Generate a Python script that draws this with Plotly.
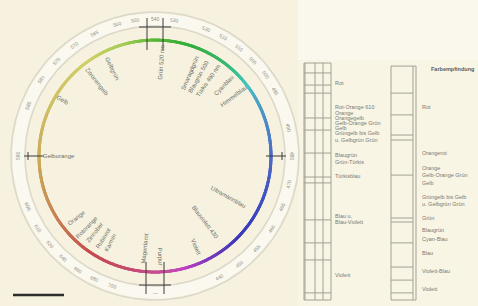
import colorsys
import numpy as np
import plotly.graph_objects as go

# ---------------- data ----------------
# colour wheel: clockwise angle from top (deg) -> hue (deg) and lightness
wheel_angles = [0, 20, 40, 60, 90, 135, 155, 175, 195, 215, 235, 260, 290, 325, 345, 360]
wheel_hues = [105, 125, 150, 195, 225, 240, 275, 320, 345, 360, 380, 400, 410, 420, 440, 465]
wheel_light = [0.47, 0.45, 0.48, 0.54, 0.54, 0.48, 0.48, 0.54, 0.54, 0.54, 0.56, 0.56, 0.6, 0.62, 0.57, 0.47]
wheel_radius = 116
ring_radii = [130, 144]

# radial labels inside the wheel
inner_label_angles = [4, 23, 29, 35, 44, 53, 119, 143, 156, 177, 186, 207, 212, 218, 224, 232, 270, 301, 322, 334]
inner_label_radii = [94, 90, 90, 92, 98, 99, 84, 83, 100, 101, 93, 97, 97, 97, 98, 100, 96, 108, 94, 97]
inner_label_texts = ["Grün 520 nm", "Smaragdgrün", "Blaugrün 500", "Türkis 490 nm", "Cyanblau",
                     "Himmelblau", "Ultramarinblau", "Blauviolett 430", "Violett", "Purpur",
                     "Magentarot", "Karmin", "Rubinrot", "Zinnober", "Rotorange", "Orange",
                     "Gelborange", "Gelb", "Zitronengelb", "Gelbgrün"]

# tangential labels on the outer rings
outer_label_angles = [0, 352, 8, 22, 30, 38, 46, 54, 62, 78, 90, 102, 112, 122, 132, 142, 152, 180,
                      198, 206, 214, 222, 230, 238, 248, 270, 292, 304, 314, 324, 334, 344]
outer_label_texts = ["540", "550", "530", "520", "515", "510", "505", "500", "495", "490", "480",
                     "470", "465", "460", "455", "450", "440", "—", "700", "680", "660", "640",
                     "620", "610", "600", "590", "585", "580", "575", "570", "565", "560"]

# cross marks at the four main directions (tangential offsets of radial strokes)
mark_angles = [0, 90, 180, 270]
mark_offsets = [[-8, 8], [0], [-9, 9], [0]]

# right panel: scale positions 0 (top) .. 100 (bottom)
scale1_ticks = [4.2, 9.3, 12.7, 23.2, 28.3, 38.0, 48.1, 50.6, 66.2, 75.9, 83.1, 97.0]
scale1_label_pos = [8.4, 18.6, 21.1, 23.2, 25.3, 27.4, 29.5, 32.5, 38.8, 41.8, 47.7, 64.6, 67.1, 89.5]
scale1_label_txt = ["Rot", "Rot-Orange 610", "Orange", "Orangegelb", "Gelb-Orange Grün", "Gelb",
                    "Grüngelb bis Gelb", "u. Gelbgrün Grün", "Blaugrün", "Grün-Türkis",
                    "Türkisblau", "Blau u.", "Blau-Violett", "Violett"]
scale2_ticks = [12.7, 21.9, 30.4, 32.5, 47.3, 65.4, 67.1, 75.9, 86.1, 91.6, 97.0]
scale2_label_pos = [18.6, 38.0, 44.3, 47.3, 50.6, 56.5, 59.5, 65.4, 70.5, 74.3, 80.2, 87.8, 95.4]
scale2_label_txt = ["Rot", "Orangerot", "Orange", "Gelb-Orange Grün", "Gelb", "Grüngelb bis Gelb",
                    "u. Gelbgrün Grün", "Grün", "Blaugrün", "Cyan-Blau", "Blau", "Violett-Blau",
                    "Violett"]
scale2_title = "Farbempfindung"

# ---------------- figure ----------------
BG = "#f6f2df"
TXT = "#7a7a72"
FONT = "Liberation Sans"

fig = go.Figure()


def polar_xy(theta_deg, r):
    t = np.radians(theta_deg)
    return r * np.sin(t), r * np.cos(t)


# rings (light band with grey edges)
ring_t = np.linspace(0, 360, 721)
rx, ry = polar_xy(ring_t, (ring_radii[0] + ring_radii[1]) / 2)
fig.add_trace(go.Scatter(x=rx, y=ry, mode="lines", line=dict(color="#fbf9ef", width=12),
                         hoverinfo="skip", showlegend=False))
for rr in ring_radii:
    rx, ry = polar_xy(ring_t, rr)
    fig.add_trace(go.Scatter(x=rx, y=ry, mode="lines", line=dict(color="#dcd9cb", width=1.6),
                             hoverinfo="skip", showlegend=False))

# colour wheel
pts = np.linspace(0, 360, 1200, endpoint=False)
hues = np.interp(pts, wheel_angles, wheel_hues) % 360
lights = np.interp(pts, wheel_angles, wheel_light)
cols = []
for h, l in zip(hues, lights):
    r, g, b = colorsys.hls_to_rgb(h / 360.0, l, 0.52)
    cols.append(f"rgb({int(r*255)},{int(g*255)},{int(b*255)})")
cx, cy = polar_xy(pts, wheel_radius)
fig.add_trace(go.Scatter(x=cx, y=cy, mode="markers",
                         marker=dict(size=3.0, color=cols, line=dict(width=0)),
                         hoverinfo="skip", showlegend=False))

# cross marks
for ang, offs in zip(mark_angles, mark_offsets):
    t = np.radians(ang)
    u = np.array([np.sin(t), np.cos(t)])
    tv = np.array([np.cos(t), -np.sin(t)])
    xs, ys = [], []
    if len(offs) > 1:
        r0, r1, rbar, half = 106, 138, 129, 16
    else:
        r0, r1, rbar, half = 111, 131, 127, 4
    for o in offs:
        p0 = r0 * u + o * tv
        p1 = r1 * u + o * tv
        xs += [p0[0], p1[0], None]
        ys += [p0[1], p1[1], None]
    q0 = rbar * u - half * tv
    q1 = rbar * u + half * tv
    xs += [q0[0], q1[0], None]
    ys += [q0[1], q1[1], None]
    fig.add_trace(go.Scatter(x=xs, y=ys, mode="lines", line=dict(color="#3a3a3a", width=1),
                             hoverinfo="skip", showlegend=False))

# scale bar
fig.add_trace(go.Scatter(x=[-142, -91], y=[-139, -139], mode="lines",
                         line=dict(color="#2e2e2e", width=2.5), hoverinfo="skip", showlegend=False))

annotations = []
for ang, rr, txt in zip(inner_label_angles, inner_label_radii, inner_label_texts):
    x, y = polar_xy(ang, rr)
    ta = ang - 90 if ang <= 180 else ang - 270
    annotations.append(dict(x=float(x), y=float(y), xref="x", yref="y", text=txt, showarrow=False,
                            textangle=ta, font=dict(size=6, color="#6e6e66", family=FONT)))
for ang, txt in zip(outer_label_angles, outer_label_texts):
    x, y = polar_xy(ang, 137)
    if ang <= 90:
        ta = ang
    elif ang >= 270:
        ta = ang - 360
    else:
        ta = ang - 180
    annotations.append(dict(x=float(x), y=float(y), xref="x", yref="y", text=txt, showarrow=False,
                            textangle=ta, font=dict(size=5, color="#8f8f85", family=FONT)))

# ---------------- right panel ----------------
def box(x0, x1, y0, y1):
    return [x0, x1, x1, x0, x0, None], [y0, y0, y1, y1, y0, None]

# column 1
bx, by = box(4, 31, 0, 100)
for vx in [5, 15, 23]:
    bx += [vx, vx, None]
    by += [0, 100, None]
for t in scale1_ticks:
    bx += [4, 31, None]
    by += [t, t, None]
fig.add_trace(go.Scatter(x=bx, y=by, mode="lines", xaxis="x2", yaxis="y2",
                         line=dict(color="#a3a196", width=1), hoverinfo="skip", showlegend=False))
# column 2
bx, by = box(91, 116, 1.3, 100)
bx += [113, 113, None]
by += [1.3, 100, None]
for t in scale2_ticks:
    bx += [91, 113, None]
    by += [t, t, None]
fig.add_trace(go.Scatter(x=bx, y=by, mode="lines", xaxis="x2", yaxis="y2",
                         line=dict(color="#a3a196", width=1), hoverinfo="skip", showlegend=False))

for p, txt in zip(scale1_label_pos, scale1_label_txt):
    annotations.append(dict(x=33, y=p, xref="x2", yref="y2", text=txt, showarrow=False,
                            xanchor="left", font=dict(size=5.5, color=TXT, family=FONT)))
for p, txt in zip(scale2_label_pos, scale2_label_txt):
    annotations.append(dict(x=120, y=p, xref="x2", yref="y2", text=txt, showarrow=False,
                            xanchor="left", font=dict(size=5.5, color=TXT, family=FONT)))
annotations.append(dict(x=129, y=2.5, xref="x2", yref="y2", text="<b>" + scale2_title + "</b>",
                        showarrow=False, xanchor="left", font=dict(size=5.5, color="#5c5c55", family=FONT)))

shapes = [
    dict(type="rect", xref="paper", yref="paper", x0=298 / 478, x1=1, y0=0, y1=1,
         fillcolor="#f8f5e5", line=dict(width=0), layer="below"),
    dict(type="rect", xref="paper", yref="paper", x0=298 / 478, x1=1, y0=1 - 60 / 306, y1=1,
         fillcolor="#faf8ec", line=dict(width=0), layer="below"),
]

fig.update_layout(
    width=478, height=306, autosize=False,
    margin=dict(l=0, r=0, t=0, b=0),
    paper_bgcolor=BG, plot_bgcolor="rgba(0,0,0,0)",
    xaxis=dict(domain=[0, 300 / 478], range=[-155, 145], visible=False, fixedrange=True),
    yaxis=dict(domain=[0, 1], range=[-150, 156], visible=False, fixedrange=True),
    xaxis2=dict(domain=[300 / 478, 1], range=[0, 178], visible=False, anchor="y2", fixedrange=True),
    yaxis2=dict(domain=[0, 1], range=[102.53, -26.58], visible=False, anchor="x2", fixedrange=True),
    annotations=annotations,
    shapes=shapes,
    showlegend=False,
)

fig.write_html("out.html", config={"displayModeBar": False},
               post_script="document.body.style.margin='0';document.body.style.overflow='hidden';")
